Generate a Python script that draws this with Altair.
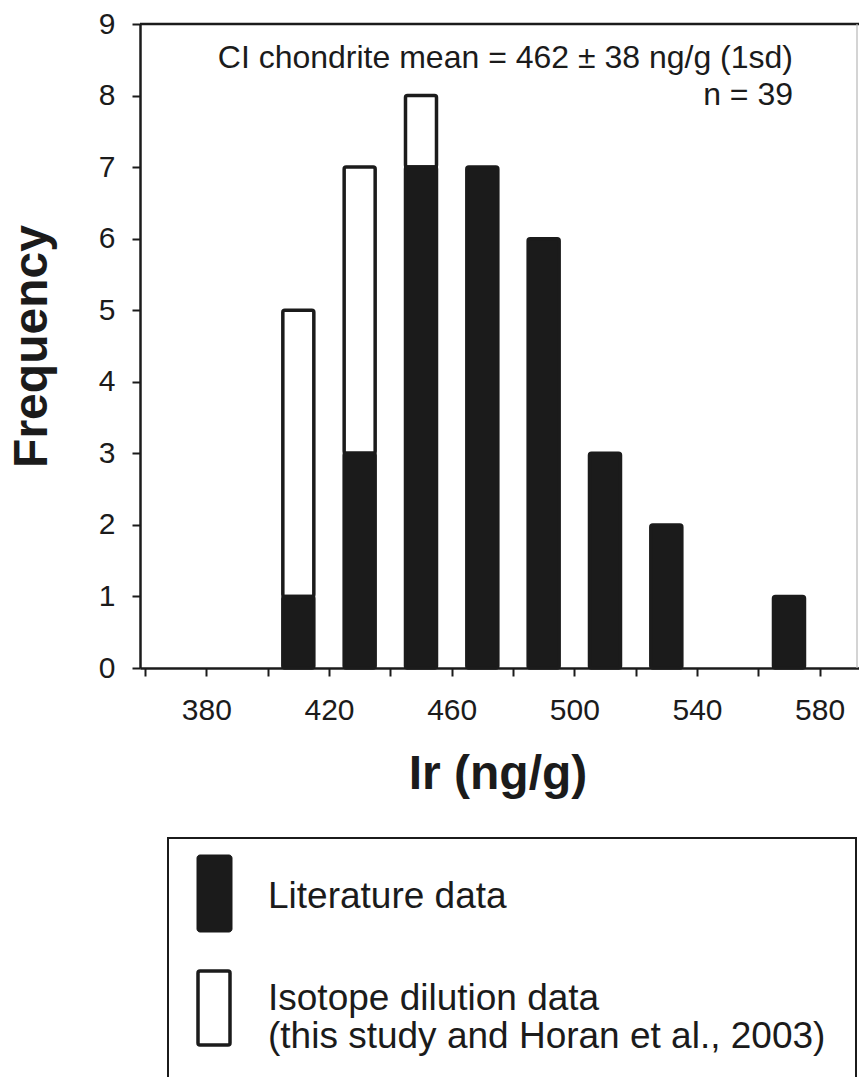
import altair as alt
import pandas as pd

# Histogram of Ir concentrations in CI chondrites (20 ng/g bins)
bin_centers = [410, 430, 450, 470, 490, 510, 530, 570]
literature = [1, 3, 7, 7, 6, 3, 2, 1]
isotope = [4, 4, 1, 0, 0, 0, 0, 0]

x_ticks = list(range(360, 581, 20))
y_ticks = list(range(0, 10))

note_text = "CI chondrite mean = 462 ± 38 ng/g (1sd)\nn = 39"
legend_lit = "Literature data"
legend_iso = "Isotope dilution data\n(this study and Horan et al., 2003)"

df = pd.DataFrame({"ir": bin_centers, "lit": literature, "iso": isotope})
df["total"] = df["lit"] + df["iso"]

W, H = 719, 644
FONT = "Liberation Sans"
INK = "#1b1b1b"

x_scale = alt.Scale(domain=[360, 591.2], nice=False, zero=False)
y_scale = alt.Scale(domain=[0, 9], nice=False)

x_axis = alt.Axis(
    values=x_ticks,
    labelExpr="datum.value % 40 == 20 ? datum.label : ''",
    title="Ir (ng/g)",
    labelPadding=19,
    titleX=W / 2 - 2,
    titleY=120,
    titleBaseline="alphabetic",
    titleAlign="center",
)
y_axis = alt.Axis(
    values=y_ticks,
    format="d",
    title="Frequency",
    labelPadding=17,
    titleAngle=270,
    titleX=-94,
    titleY=H / 2,
    titleBaseline="alphabetic",
    titleAlign="center",
)

base = alt.Chart(df)

iso_bars = base.transform_filter("datum.iso > 0").mark_bar(
    fill="white", stroke=INK, strokeWidth=3.5, size=31, cornerRadius=2
).encode(
    x=alt.X("ir:Q", scale=x_scale, axis=x_axis),
    y=alt.Y("total:Q", scale=y_scale, axis=y_axis),
    y2="lit:Q",
)

lit_bars = base.mark_bar(
    fill=INK, stroke=INK, strokeWidth=3.5, size=31, cornerRadius=2
).encode(
    x=alt.X("ir:Q", scale=x_scale),
    y=alt.Y("lit:Q", scale=y_scale),
    y2=alt.datum(0),
)

one = alt.Chart(pd.DataFrame({"k": [0]}))

top_rule = alt.Chart(pd.DataFrame({"y": [9]})).mark_rule(
    color=INK, strokeWidth=2.5
).encode(y=alt.Y("y:Q", scale=y_scale), x=alt.value(0), x2=alt.value(W))

right_rule = one.mark_rule(color="#b8b8b8", strokeWidth=1.2).encode(
    x=alt.value(W - 2), y=alt.value(0), y2=alt.value(H)
)

note = one.mark_text(
    text=note_text, lineBreak="\n", lineHeight=37, align="right",
    baseline="alphabetic", font=FONT, fontSize=32, color=INK
).encode(x=alt.value(653), y=alt.value(44))

# legend panel below the plot
legend_box = one.mark_rect(
    fillOpacity=0, stroke=INK, strokeWidth=2
).encode(x=alt.value(28), x2=alt.value(716), y=alt.value(814), y2=alt.value(1080))

sw_lit = one.mark_rect(fill=INK, stroke=INK, strokeWidth=1, cornerRadius=3).encode(
    x=alt.value(57), x2=alt.value(92), y=alt.value(831), y2=alt.value(908)
)
sw_iso = one.mark_rect(fill="white", stroke=INK, strokeWidth=3.5, cornerRadius=2).encode(
    x=alt.value(58), x2=alt.value(90), y=alt.value(947), y2=alt.value(1021)
)
txt_lit = one.mark_text(
    text=legend_lit, align="left", baseline="alphabetic", font=FONT,
    fontSize=37, color=INK
).encode(x=alt.value(128), y=alt.value(884))
txt_iso = one.mark_text(
    text=legend_iso, lineBreak="\n", lineHeight=38, align="left",
    baseline="alphabetic", font=FONT, fontSize=37, color=INK
).encode(x=alt.value(128), y=alt.value(986))

chart = alt.layer(
    iso_bars, lit_bars, top_rule, right_rule, note,
    legend_box, sw_lit, sw_iso, txt_lit, txt_iso,
).properties(
    width=W, height=H,
    autosize=alt.AutoSizeParams(type="none"),
    padding={"left": 140, "top": 24, "right": 0, "bottom": 409},
    background="white",
).configure_view(stroke=None).configure_axis(
    grid=False,
    domainColor=INK, domainWidth=2.5,
    tickColor=INK, tickWidth=2, tickSize=8,
    labelFont=FONT, labelFontSize=30, labelColor=INK,
    titleFont=FONT, titleFontSize=48, titleFontWeight="bold", titleColor=INK,
)

chart.save("out.html", embed_options={"renderer": "svg", "actions": False})
